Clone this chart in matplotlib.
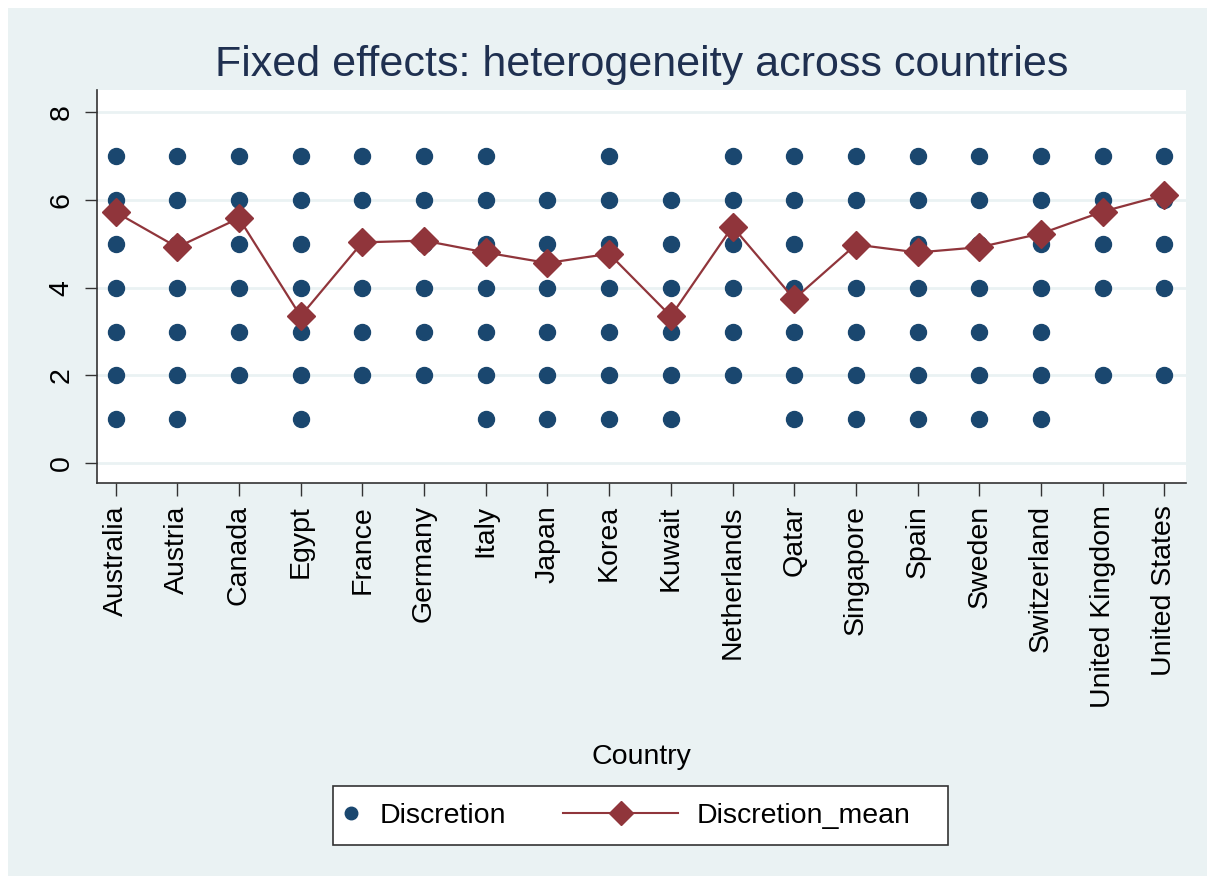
import numpy as np
import matplotlib
matplotlib.use('Agg')
import matplotlib.pyplot as plt
from matplotlib.patches import Rectangle
from matplotlib.lines import Line2D

plt.rcParams['font.family'] = ['Liberation Sans', 'DejaVu Sans']

# Countries on the x axis
countries = ['Australia', 'Austria', 'Canada', 'Egypt', 'France', 'Germany', 'Italy', 'Japan', 'Korea',
             'Kuwait', 'Netherlands', 'Qatar', 'Singapore', 'Spain', 'Sweden', 'Switzerland',
             'United Kingdom', 'United States']

# Observed discretion values per country
discretion = [
    [1, 2, 3, 4, 5, 6, 7],
    [1, 2, 3, 4, 5, 6, 7],
    [2, 3, 4, 5, 6, 7],
    [1, 2, 3, 4, 5, 6, 7],
    [2, 3, 4, 5, 6, 7],
    [2, 3, 4, 5, 6, 7],
    [1, 2, 3, 4, 5, 6, 7],
    [1, 2, 3, 4, 5, 6],
    [1, 2, 3, 4, 5, 6, 7],
    [1, 2, 3, 4, 5, 6],
    [2, 3, 4, 5, 6, 7],
    [1, 2, 3, 4, 5, 6, 7],
    [1, 2, 3, 4, 5, 6, 7],
    [1, 2, 3, 4, 5, 6, 7],
    [1, 2, 3, 4, 5, 6, 7],
    [1, 2, 3, 4, 5, 6, 7],
    [2, 4, 5, 6, 7],
    [2, 4, 5, 6, 7],
]

# Country means
discretion_mean = [5.72, 4.92, 5.58, 3.35, 5.03, 5.07, 4.80, 4.56, 4.77,
                   3.35, 5.39, 3.74, 4.98, 4.80, 4.92, 5.23, 5.73, 6.11]

navy = '#1A476F'
maroon = '#90353B'
bg = '#EAF2F3'
W, H = 1215, 884
fs = 20.5

# Initialize figure
fig = plt.figure(figsize=(W / 100, H / 100), dpi=100, facecolor='white')
fig.patches.append(Rectangle((8 / W, 8 / H), 1 - 16 / W, 1 - 16 / H,
                             transform=fig.transFigure, facecolor=bg, edgecolor='none', zorder=-10))
ax = fig.add_axes([97 / W, 1 - 483 / H, (1186 - 97) / W, (483 - 90) / H])
ax.set_facecolor('white')

# Scatter of observations
xs = np.concatenate([[i] * len(v) for i, v in enumerate(discretion)])
ys = np.concatenate(discretion)
ax.plot(xs, ys, linestyle='none', marker='o', markersize=11.5, color=navy, zorder=3)

# Mean line
ax.plot(range(len(countries)), discretion_mean, color=maroon, linewidth=1.6, marker='D',
        markersize=14, zorder=4)

# Axes styling
ax.set_xlim(-0.3, 17.35)
ax.set_ylim(-0.45, 8.5)
ax.set_yticks([0, 2, 4, 6, 8])
ax.set_yticklabels(['0', '2', '4', '6', '8'], rotation=90, va='center', fontsize=fs)
ax.set_xticks(range(len(countries)))
ax.set_xticklabels(countries, rotation=90, fontsize=fs)
ax.tick_params(axis='both', direction='out', length=9, width=1, color='#333333', pad=7)
ax.yaxis.grid(True, color=bg, linewidth=2)
ax.set_axisbelow(True)
for side in ['top', 'right']:
    ax.spines[side].set_visible(False)
for side in ['left', 'bottom']:
    ax.spines[side].set_color('#333333')
    ax.spines[side].set_linewidth(1.2)

fig.text(641 / W, 1 - 757 / H, 'Country', ha='center', va='center', fontsize=fs, color='black')
fig.text(642 / W, 1 - 65 / H, 'Fixed effects: heterogeneity across countries', ha='center', va='center',
         fontsize=31, color='#1F3050')

# Legend box and two keys
fig.patches.append(Rectangle((333 / W, 1 - 845 / H), (948 - 333) / W, (845 - 786) / H,
                             transform=fig.transFigure, facecolor='white', edgecolor='#333333',
                             linewidth=1.2, zorder=1))
dot_key = Line2D([], [], linestyle='none', marker='o', markersize=9, color=navy)
mean_key = Line2D([], [], color=maroon, linewidth=1.5, marker='D', markersize=12)
leg1 = fig.legend([dot_key], ['Discretion'], loc='center left', bbox_to_anchor=(337 / W, 1 - 816 / H),
                  fontsize=fs, frameon=False, handlelength=1.0, handletextpad=0.5, borderpad=0,
                  borderaxespad=0)
leg2 = fig.legend([mean_key], ['Discretion_mean'], loc='center left', bbox_to_anchor=(563 / W, 1 - 816 / H),
                  fontsize=fs, frameon=False, handlelength=4.05, handletextpad=0.65, borderpad=0,
                  borderaxespad=0)
leg1.set_zorder(2)
leg2.set_zorder(2)

fig.savefig('out.png', dpi=100, facecolor=fig.get_facecolor())
